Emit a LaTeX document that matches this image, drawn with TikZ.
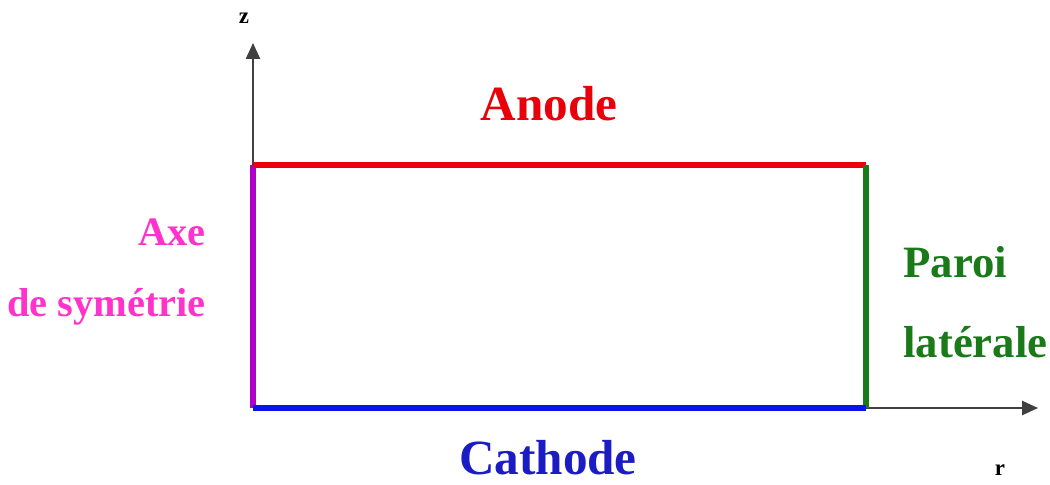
\documentclass[tikz,border=0pt]{standalone}
\usepackage{fontspec}
\setmainfont{Liberation Serif}
\usetikzlibrary{arrows.meta}
\definecolor{axecol}{HTML}{B000C8}
\definecolor{anodecol}{HTML}{E8000A}
\definecolor{parcol}{HTML}{1A7A1A}
\definecolor{cathcol}{HTML}{0A14E6}
\definecolor{axetxt}{HTML}{FF33CC}
\definecolor{cathtxt}{HTML}{1C1CC4}
\begin{document}
\begin{tikzpicture}[x=0.02cm,y=-0.02cm,
  wall/.style={line width=3.4pt},
  axis/.style={line width=1.1pt,draw=black!75,-{Triangle[length=9pt,width=8pt]}},
  big/.style={font=\fontsize{28}{32}\selectfont\bfseries,inner sep=0pt},
  mid/.style={font=\fontsize{23}{40}\selectfont\bfseries,align=right},
  side/.style={font=\fontsize{25.5}{45.5}\selectfont\bfseries,align=left},
  small/.style={font=\fontsize{13}{15}\selectfont\bfseries}]
\useasboundingbox (0,0) rectangle (1050,484);
\coordinate (tl) at (253,165);
\coordinate (tr) at (866,165);
\coordinate (bl) at (253,408);
\coordinate (br) at (866,408);
\coordinate (ztip) at (253,43);
\coordinate (rtip) at (1038,408);
\draw[axis] (tl) -- (ztip);
\draw[axis] (br) -- (rtip);
\draw[wall,axecol] (bl) -- (tl);
\draw[wall,anodecol] (tl) -- (tr);
\draw[wall,parcol] (tr) -- (br);
\draw[wall,cathcol] (bl) -- (br);
\node[small] (zl) at (244,18) {z};
\node[small] (rl) at (1000,470) {r};
\node[big,anodecol] (anode) at (549,104) {Anode};
\node[big,cathtxt] (cathode) at (548,458) {Cathode};
\node[mid,axetxt,anchor=east] (axe) at (212,272) {Axe\\de symétrie};
\node[side,parcol,anchor=west] (paroi) at (897,302) {Paroi\\latérale};
\end{tikzpicture}
\end{document}
